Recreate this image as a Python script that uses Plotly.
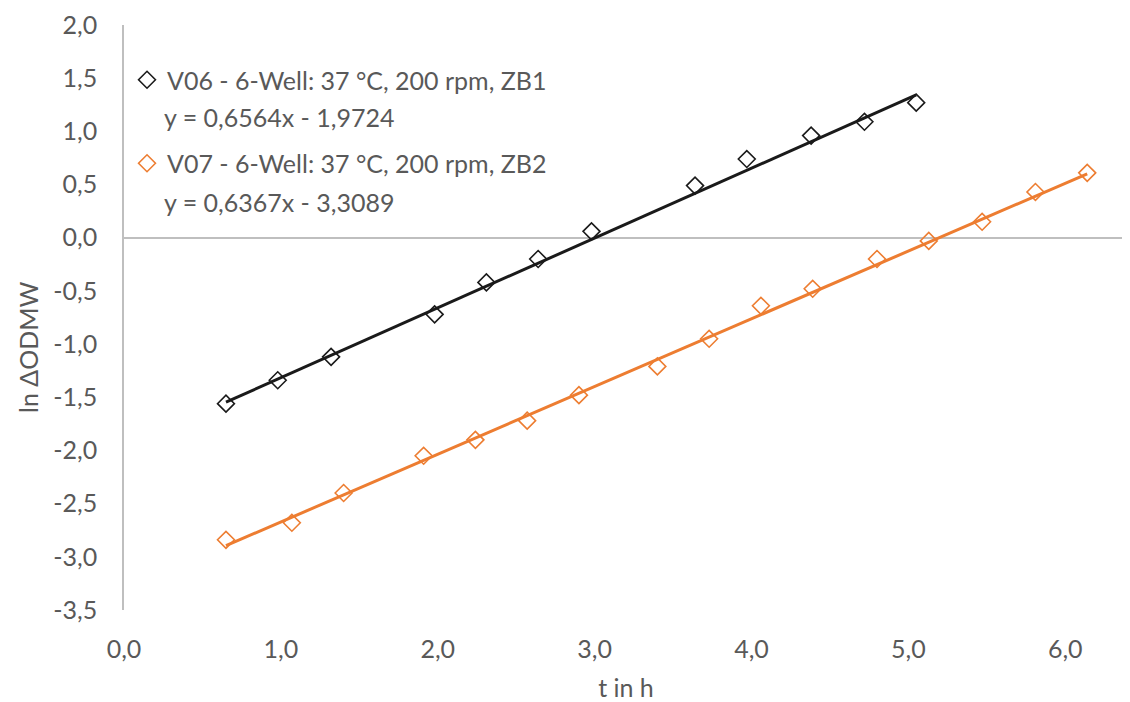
import plotly.graph_objects as go

# --- data ---
v06_t = [0.65, 0.98, 1.32, 1.98, 2.31, 2.64, 2.98, 3.64, 3.97, 4.38, 4.72, 5.05]
v06_y = [-1.56, -1.34, -1.12, -0.72, -0.42, -0.20, 0.06, 0.49, 0.74, 0.96, 1.09, 1.27]
v07_t = [0.65, 1.07, 1.40, 1.91, 2.24, 2.57, 2.90, 3.40, 3.73, 4.06, 4.39, 4.80, 5.13, 5.47, 5.81, 6.14]
v07_y = [-2.84, -2.68, -2.40, -2.05, -1.90, -1.72, -1.48, -1.21, -0.95, -0.64, -0.48, -0.20, -0.03, 0.15, 0.43, 0.61]

v06_fit = (0.6564, -1.9724)
v07_fit = (0.6367, -3.3089)

v06_name = "V06 - 6-Well: 37 °C, 200 rpm, ZB1"
v07_name = "V07 - 6-Well: 37 °C, 200 rpm, ZB2"
v06_eq = "y = 0,6564x - 1,9724"
v07_eq = "y = 0,6367x - 3,3089"

y_ticks = [2.0, 1.5, 1.0, 0.5, 0.0, -0.5, -1.0, -1.5, -2.0, -2.5, -3.0, -3.5]
y_ticktext = ["2,0", "1,5", "1,0", "0,5", "0,0", "-0,5", "-1,0", "-1,5", "-2,0", "-2,5", "-3,0", "-3,5"]
x_ticks = [0, 1, 2, 3, 4, 5, 6]
x_ticktext = ["0,0", "1,0", "2,0", "3,0", "4,0", "5,0", "6,0"]

ORANGE = "#ED7D31"
TXT = "#595959"
FONT = "Lato"
FS = 25

# page body has an 8px margin: the figure starts at (8, 8)
OFF = 8
PLOT_TOP, PLOT_BOTTOM, PLOT_LEFT, PLOT_RIGHT = 25, 610, 124, 1128
PH = PLOT_BOTTOM - PLOT_TOP


def py(abs_y):
    return 1 - (abs_y - PLOT_TOP) / PH


def px(abs_x):
    return (abs_x - PLOT_LEFT) / (PLOT_RIGHT - PLOT_LEFT)


fig = go.Figure()


def add_series(t, y, fit, name, color, group):
    x0, x1 = min(t), max(t)
    fig.add_trace(go.Scatter(
        x=[x0, x1], y=[fit[0] * x0 + fit[1], fit[0] * x1 + fit[1]],
        mode="lines", line=dict(color=color, width=3), showlegend=False,
        hoverinfo="skip"))
    fig.add_trace(go.Scatter(
        x=t, y=y, mode="markers", name=name, legendgroup=group,
        marker=dict(symbol="diamond-open", size=13, color=color,
                    line=dict(color=color, width=1.6))))


add_series(v06_t, v06_y, v06_fit, v06_name, "#1a1a1a", "a")
add_series(v07_t, v07_y, v07_fit, v07_name, ORANGE, "b")

for eq, ay in ((v06_eq, 117), (v07_eq, 202)):
    fig.add_annotation(xref="paper", yref="paper", x=px(162), y=py(ay), text=eq,
                       showarrow=False, xanchor="left", yanchor="middle",
                       font=dict(family=FONT, size=FS, color=TXT))

# y-axis title (Excel places it slightly below the plot centre)
fig.add_annotation(xref="paper", yref="paper", x=px(28), y=py(348), text="ln ΔODMW",
                   textangle=-90, showarrow=False, xanchor="center", yanchor="middle",
                   font=dict(family=FONT, size=FS, color=TXT))

fig.update_layout(
    width=1130 - OFF, height=702 - OFF,
    margin=dict(l=PLOT_LEFT - OFF, r=1130 - PLOT_RIGHT, t=PLOT_TOP - OFF, b=702 - PLOT_BOTTOM),
    plot_bgcolor="white", paper_bgcolor="white",
    font=dict(family=FONT, size=FS, color=TXT),
    legend=dict(x=0.003, y=py(57), xanchor="left", yanchor="top",
                bgcolor="rgba(0,0,0,0)", traceorder="grouped",
                tracegroupgap=48, font=dict(family=FONT, size=FS, color=TXT)),
    xaxis=dict(range=[0, 6.4], tickvals=x_ticks, ticktext=x_ticktext,
               showgrid=False, zeroline=False, showline=False, ticks="",
               ticklabelstandoff=22, automargin=False,
               title=dict(text="t in h", standoff=18,
                          font=dict(family=FONT, size=FS, color=TXT))),
    yaxis=dict(range=[-3.5, 2.0], tickvals=y_ticks, ticktext=y_ticktext,
               showgrid=False, zeroline=True, zerolinecolor="#BFBFBF",
               zerolinewidth=1.5, showline=True, linecolor="#BFBFBF",
               linewidth=1.5, ticks="", ticklabelstandoff=20, automargin=False),
)

fig.write_html("out.html")
